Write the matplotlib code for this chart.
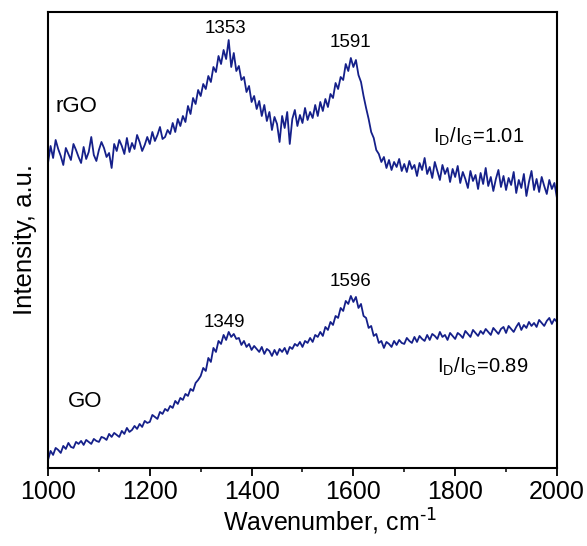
import matplotlib
matplotlib.use('Agg')
import matplotlib.pyplot as plt
import numpy as np
from matplotlib.ticker import MultipleLocator

plt.rcParams['font.family'] = ['Liberation Sans', 'DejaVu Sans']
plt.rcParams['mathtext.default'] = 'regular'

# Espectros Raman, paso de 5 cm-1 entre 1000 y 2000
wavenumber = np.arange(1000, 2001, 5)

rgo = [
    305, 322, 310, 328, 319, 312, 303, 320, 314, 308, 324, 318, 311, 305, 321, 309, 316, 331, 313, 307,
    318, 326, 320, 311, 315, 300, 324, 317, 328, 322, 314, 330, 316, 325, 319, 333, 326, 317, 323, 331,
    324, 336, 327, 333, 341, 329, 331, 338, 334, 345, 336, 349, 342, 352, 346, 362, 354, 370, 364, 378,
    372, 384, 379, 392, 386, 401, 396, 412, 404, 418, 409, 428, 401, 415, 397, 402, 388, 391, 376, 382,
    366, 372, 359, 367, 352, 363, 347, 356, 338, 351, 344, 326, 352, 340, 356, 324, 349, 358, 342, 353,
    345, 360, 348, 356, 350, 363, 352, 366, 357, 369, 361, 374, 370, 385, 379, 391, 388, 404, 397, 410,
    401, 408, 393, 386, 372, 360, 349, 336, 330, 318, 314, 306, 311, 300, 308, 298, 306, 301, 309, 297,
    304, 296, 307, 299, 303, 292, 305, 298, 310, 294, 301, 290, 306, 297, 288, 303, 294, 300, 286, 299,
    291, 302, 285, 296, 289, 280, 297, 287, 293, 279, 295, 284, 300, 282, 291, 277, 289, 298, 281, 292,
    278, 290, 283, 296, 275, 288, 280, 294, 272, 286, 297, 278, 289, 276, 291, 282, 274, 288, 279, 285,
    270,
]

go = [
    8, 17, 13, 20, 18, 15, 22, 19, 25, 21, 20, 26, 24, 27, 23, 28, 26, 24, 29, 27,
    26, 31, 30, 28, 34, 31, 35, 33, 31, 37, 34, 40, 36, 38, 42, 39, 44, 41, 47, 45,
    46, 53, 51, 49, 56, 54, 59, 57, 62, 60, 67, 64, 70, 68, 74, 72, 79, 77, 85, 88,
    92, 100, 97, 110, 106, 120, 116, 127, 124, 133, 128, 136, 131, 134, 129, 130, 123, 127, 121, 124,
    118, 122, 119, 116, 121, 114, 119, 117, 112, 118, 113, 119, 116, 120, 114, 121, 119, 124, 122, 126,
    121, 127, 125, 130, 126, 133, 131, 136, 132, 141, 138, 146, 143, 152, 150, 160, 157, 167, 164, 172,
    166, 171, 160, 164, 152, 150, 140, 142, 132, 134, 125, 127, 120, 126, 124, 121, 127, 123, 128, 125,
    124, 130, 127, 125, 131, 126, 132, 129, 127, 133, 128, 134, 132, 129, 136, 131, 133, 128, 135, 132,
    129, 135, 133, 130, 137, 134, 131, 138, 135, 132, 137, 134, 139, 136, 133, 140, 137, 134, 139, 141,
    135, 142, 139, 136, 141, 145, 138, 143, 140, 146, 142, 145, 141, 148, 145, 142, 147, 150, 144, 149,
    146,
]

fig = plt.figure(figsize=(5.87, 5.46), dpi=100)
ax = fig.add_axes([0.0818, 0.143, 0.867, 0.835])

color = '#15208a'
ax.plot(wavenumber, rgo, color=color, lw=1.3)
ax.plot(wavenumber, go, color=color, lw=1.3)

ax.set_xlim(1000, 2000)
ax.set_ylim(0, 456)
ax.xaxis.set_major_locator(MultipleLocator(200))
ax.xaxis.set_minor_locator(MultipleLocator(100))
ax.set_yticks([])
ax.tick_params(axis='x', which='major', direction='out', length=5.5, width=1.3, labelsize=18)
ax.tick_params(axis='x', which='minor', direction='out', length=3, width=1.1)
for s in ax.spines.values():
    s.set_linewidth(1.5)

ax.set_xlabel(r'Wavenumber, cm$^{\text{-1}}$', fontsize=18, labelpad=2, x=0.554)
ax.set_ylabel('Intensity, a.u.', fontsize=18.5, labelpad=8)

# etiquetas de picos y muestras
ax.text(1348, 440, '1353', fontsize=13.5, ha='center', va='center')
ax.text(1594, 426, '1591', fontsize=13.5, ha='center', va='center')
ax.text(1347, 145, '1349', fontsize=13.5, ha='center', va='center')
ax.text(1595, 186, '1596', fontsize=13.5, ha='center', va='center')
ax.text(1014, 361, 'rGO', fontsize=16, ha='left', va='center')
ax.text(1039, 66, 'GO', fontsize=16, ha='left', va='center')
ax.text(1756, 331, 'I$_D$/I$_G$=1.01', fontsize=14.5, ha='left', va='center')
ax.text(1764, 101, 'I$_D$/I$_G$=0.89', fontsize=14.5, ha='left', va='center')

plt.savefig('out.png', dpi=100)
